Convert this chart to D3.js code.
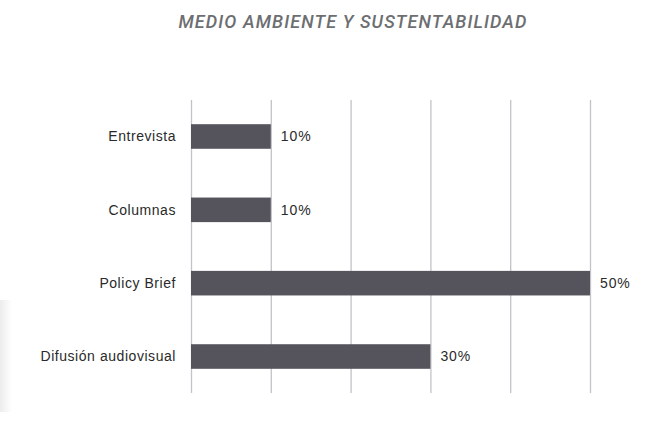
<!DOCTYPE html>
<html lang="en">
<meta charset="utf-8">
<title>Medio ambiente y sustentabilidad</title>
<style>
	body { margin: 0; background: #fff; }
	.title { font-family: Roboto, sans-serif; font-style: italic; font-weight: 500; font-size: 18px; letter-spacing: 1.1px; fill: #6d6e71; }
	.cat, .val { font-family: "Liberation Sans", sans-serif; font-size: 14px; letter-spacing: 0.55px; fill: #2a2a2a; }
	.val { letter-spacing: 0.9px; }
	.grid line { stroke: #c2c2c8; stroke-width: 1.3; }
	.grid path { display: none; }
</style>
<body>
<script src="https://d3js.org/d3.v7.min.js"></script>
<svg class="chart"></svg>
<script>
	var categories = ["Entrevista", "Columnas", "Policy Brief", "Difusión audiovisual"];
	var values = [10, 10, 50, 30];
	var ticks = [0, 10, 20, 30, 40, 50];

	var W = 671, H = 422;
	var margin = {top: 100, left: 191, right: 81, bottom: 29};
	var width = W - margin.left - margin.right,
	    height = H - margin.top - margin.bottom;

	var svg = d3.select(".chart").attr("width", W).attr("height", H);

	// faint shade on the left edge
	var defs = svg.append("defs");
	var grad = defs.append("linearGradient").attr("id", "shade")
	    .attr("x1", 0).attr("x2", 1).attr("y1", 0).attr("y2", 0);
	grad.append("stop").attr("offset", 0).attr("stop-color", "#ececec");
	grad.append("stop").attr("offset", 1).attr("stop-color", "#fff");
	svg.append("rect").attr("x", 0).attr("y", 300).attr("width", 12).attr("height", 112)
	    .attr("fill", "url(#shade)");

	svg.append("text").attr("class", "title")
	    .attr("x", 353).attr("y", 28).attr("text-anchor", "middle")
	    .text("MEDIO AMBIENTE Y SUSTENTABILIDAD");

	var g = svg.append("g").attr("transform", "translate(" + margin.left + "," + margin.top + ")");

	var x = d3.scaleLinear().domain([0, 50]).range([0, 399]);
	var y = d3.scaleBand().domain(categories).range([0, height]).paddingInner(0.665).paddingOuter(0.33);

	g.append("g").attr("class", "grid")
	    .call(d3.axisTop(x).tickValues(ticks).tickSize(-height).tickFormat(""));

	g.selectAll(".bar").data(values).enter().append("rect")
	    .attr("class", "bar")
	    .attr("x", 0)
	    .attr("y", function(d, i) { return y(categories[i]); })
	    .attr("width", function(d) { return x(d); })
	    .attr("height", y.bandwidth())
	    .attr("fill", "#55535b");

	g.selectAll(".val").data(values).enter().append("text")
	    .attr("class", "val")
	    .attr("x", function(d) { return x(d) + 10; })
	    .attr("y", function(d, i) { return y(categories[i]) + y.bandwidth() / 2; })
	    .attr("dy", "0.35em")
	    .text(function(d) { return d + "%"; });

	g.selectAll(".cat").data(categories).enter().append("text")
	    .attr("class", "cat")
	    .attr("x", -15)
	    .attr("y", function(d) { return y(d) + y.bandwidth() / 2; })
	    .attr("dy", "0.35em")
	    .attr("text-anchor", "end")
	    .text(function(d) { return d; });
</script>
</body>
</html>
